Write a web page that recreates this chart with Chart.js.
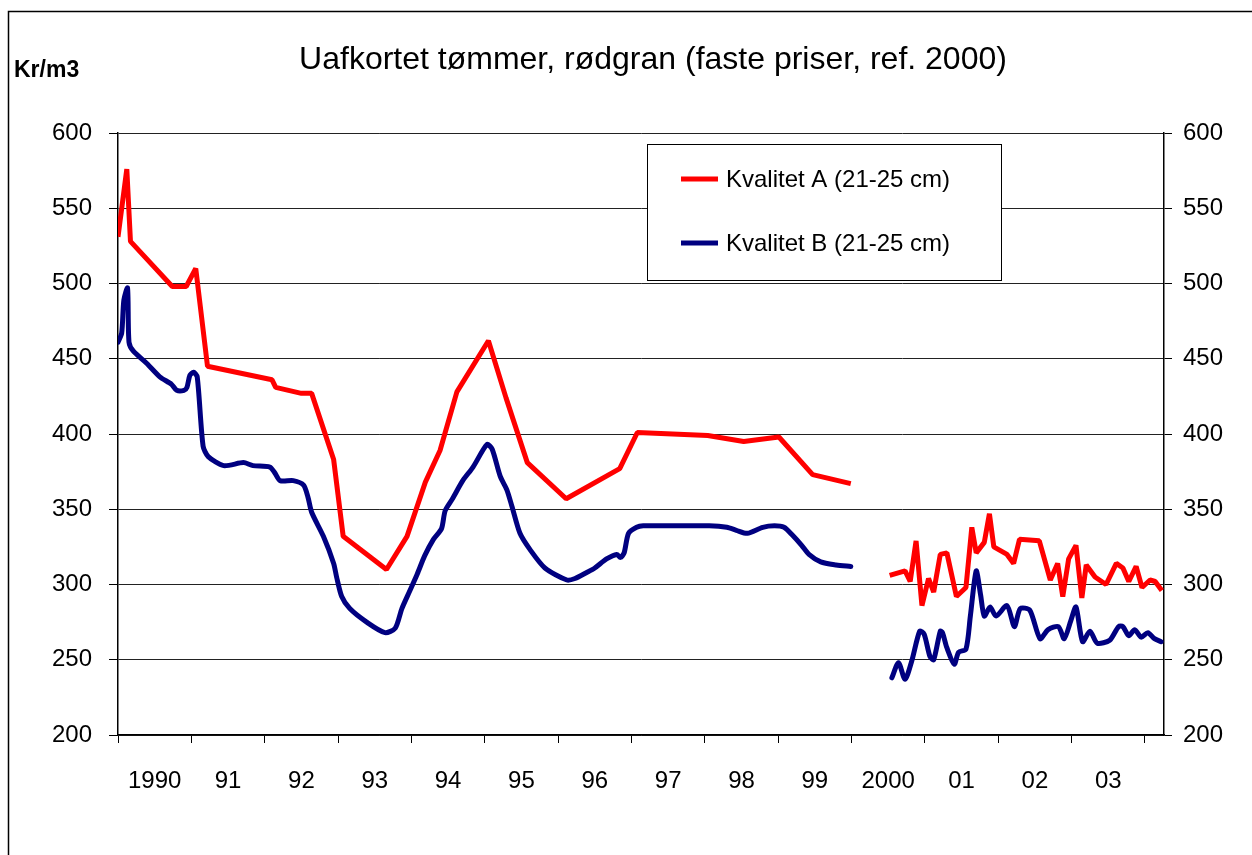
<!DOCTYPE html>
<html>
<head>
<meta charset="utf-8">
<title>Uafkortet tømmer, rødgran</title>
<script src="https://cdn.jsdelivr.net/npm/chart.js@4/dist/chart.umd.min.js"></script>
<style>
  body { margin: 0; background: #fff; }
  #wrap { width: 1252px; height: 855px; }
</style>
</head>
<body>
<div id="wrap"><canvas id="priceChart" width="1252" height="855"></canvas></div>
<script>
// x = year (decimal)
const yearsA = [1990.00, 1990.12, 1990.17, 1990.74, 1990.93, 1991.06, 1991.22, 1992.10, 1992.15, 1992.50,
    1992.64, 1992.94, 1993.07, 1993.66, 1993.94, 1994.19, 1994.39, 1994.62, 1995.05, 1995.29,
    1995.58, 1996.11, 1996.84, 1997.08, 1998.04, 1998.53, 1999.01, 1999.47, 1999.99,
    2000.25,
    2000.52, 2000.73, 2000.80, 2000.88, 2000.96, 2001.05, 2001.12, 2001.21, 2001.30, 2001.43,
    2001.56, 2001.64, 2001.70, 2001.81, 2001.88, 2001.94, 2002.12, 2002.21, 2002.29, 2002.56,
    2002.71, 2002.81, 2002.88, 2002.96, 2003.06, 2003.14, 2003.20, 2003.32, 2003.47, 2003.61,
    2003.70, 2003.78, 2003.88, 2003.96, 2004.07, 2004.14, 2004.23];
const kvalitetA = [531, 576, 528, 498, 498, 510, 445, 436, 431, 427,
    427, 383, 332, 310, 332, 368, 389, 428, 462, 424,
    381, 357, 377, 401, 399, 395, 398, 373, 367,
    null,
    306, 309, 302, 329, 286, 304, 295, 320, 321, 292,
    298, 338, 321, 328, 347, 325, 320, 314, 330, 329,
    303, 314, 292, 317, 326, 291, 313, 305, 300, 314,
    311, 302, 312, 298, 303, 302, 296];

const yearsB = [1990.00, 1990.05, 1990.08, 1990.13, 1990.15, 1990.21, 1990.39, 1990.57, 1990.73, 1990.80,
    1990.90, 1990.94, 1990.98, 1991.03, 1991.08, 1991.16, 1991.23, 1991.44, 1991.71, 1991.84,
    1992.07, 1992.14, 1992.21, 1992.39, 1992.53, 1992.59, 1992.64, 1992.80, 1992.94, 1992.98,
    1993.05, 1993.16, 1993.39, 1993.64, 1993.78, 1993.87, 1993.98, 1994.08, 1994.18, 1994.30,
    1994.41, 1994.46, 1994.56, 1994.70, 1994.84, 1995.03, 1995.10, 1995.21, 1995.30, 1995.37,
    1995.48, 1995.62, 1995.82, 1996.12, 1996.23, 1996.39, 1996.50, 1996.66, 1996.80, 1996.85,
    1996.90, 1996.96, 1997.07, 1997.16, 1997.52, 1998.06, 1998.30, 1998.43, 1998.58, 1998.79,
    1998.95, 1999.08, 1999.19, 1999.32, 1999.42, 1999.58, 1999.79, 1999.99,
    2000.25,
    2000.55, 2000.64, 2000.73, 2000.82, 2000.93, 2000.99, 2001.07, 2001.12, 2001.21, 2001.24,
    2001.30, 2001.40, 2001.46, 2001.56, 2001.62, 2001.70, 2001.76, 2001.81, 2001.89, 2001.97,
    2002.12, 2002.22, 2002.30, 2002.43, 2002.57, 2002.68, 2002.82, 2002.90, 2002.99, 2003.06,
    2003.15, 2003.25, 2003.35, 2003.52, 2003.64, 2003.70, 2003.78, 2003.86, 2003.95, 2004.04,
    2004.13, 2004.22];
const kvalitetB = [461, 467, 489, 497, 461, 455, 447, 438, 433, 429,
    429, 431, 439, 441, 438, 392, 385, 379, 381, 379,
    378, 374, 369, 369, 366, 358, 348, 332, 314, 305,
    292, 284, 275, 268, 271, 284, 296, 307, 319, 330,
    337, 349, 357, 369, 378, 393, 390, 372, 363, 352,
    334, 323, 311, 303, 304, 308, 311, 317, 320, 318,
    321, 334, 338, 339, 339, 339, 338, 336, 334, 338,
    339, 338, 333, 326, 320, 315, 313, 312,
    null,
    238, 248, 237, 249, 269, 267, 252, 250, 269, 268,
    258, 247, 255, 257, 279, 309, 293, 279, 285, 279,
    286, 272, 284, 283, 264, 270, 272, 264, 276, 285,
    262, 269, 261, 263, 272, 272, 266, 270, 265, 268,
    264, 262];

const yearLabels = ["1990", "91", "92", "93", "94", "95", "96", "97", "98", "99", "2000", "01", "02", "03", ""];
const yTicks = [200, 250, 300, 350, 400, 450, 500, 550, 600];

const FONT = "'Liberation Sans', Arial, sans-serif";

function toPoints(xs, ys) {
    return xs.map((x, i) => ({ x: x, y: ys[i] }));
}

// title, unit label, frame and a boxed legend inside the plot
const decorations = {
    id: "decorations",
    beforeDraw(chart) {
        const ctx = chart.ctx;
        ctx.save();
        ctx.fillStyle = "#fff";
        ctx.fillRect(0, 0, chart.width, chart.height);
        ctx.strokeStyle = "#000";
        ctx.lineWidth = 1.5;
        ctx.strokeRect(8.5, 11.5, 1400, 1000);
        ctx.restore();
    },
    afterDraw(chart) {
        const ctx = chart.ctx;
        ctx.save();
        ctx.fillStyle = "#000";
        ctx.textBaseline = "middle";
        ctx.textAlign = "center";
        ctx.font = "32px " + FONT;
        ctx.fillText("Uafkortet tømmer, rødgran (faste priser, ref. 2000)", 653, 60);
        ctx.textAlign = "left";
        ctx.font = "bold 23px " + FONT;
        ctx.fillText("Kr/m3", 14, 71);

        // legend box
        const bx = 647, by = 144, bw = 354, bh = 136;
        ctx.fillStyle = "#fff";
        ctx.fillRect(bx, by, bw, bh);
        ctx.strokeStyle = "#000";
        ctx.lineWidth = 1;
        ctx.strokeRect(bx + 0.5, by + 0.5, bw, bh);
        ctx.font = "24px " + FONT;
        chart.data.datasets.forEach((ds, i) => {
            const y = 179 + i * 64;
            ctx.strokeStyle = ds.borderColor;
            ctx.lineWidth = 5;
            ctx.beginPath();
            ctx.moveTo(681, y);
            ctx.lineTo(718, y);
            ctx.stroke();
            ctx.fillStyle = "#000";
            ctx.fillText(ds.label, 726, y + 1);
        });
        ctx.restore();
    }
};

new Chart(document.getElementById("priceChart"), {
    type: "line",
    data: {
        datasets: [{
            label: "Kvalitet A (21-25 cm)",
            data: toPoints(yearsA, kvalitetA),
            borderColor: "#ff0000",
            borderWidth: 5,
            borderJoinStyle: "bevel",
            pointRadius: 0,
            tension: 0,
            yAxisID: "y"
        }, {
            label: "Kvalitet B (21-25 cm)",
            data: toPoints(yearsB, kvalitetB),
            borderColor: "#000080",
            borderWidth: 5,
            borderJoinStyle: "round",
            borderCapStyle: "round",
            pointRadius: 0,
            tension: 0.25,
            yAxisID: "y"
        }]
    },
    options: {
        responsive: false,
        animation: false,
        layout: { padding: { top: 133, left: 0, right: 0, bottom: 0 } },
        plugins: {
            legend: { display: false },
            title: { display: false },
            tooltip: { enabled: false }
        },
        scales: {
            x: {
                type: "linear",
                min: 1990,
                max: 2004.26,
                afterBuildTicks: (scale) => {
                    scale.ticks = yearLabels.map((_, i) => ({ value: 1990 + i }));
                },
                afterFit: (scale) => { scale.height = 120; },
                ticks: {
                    autoSkip: false,
                    maxRotation: 0,
                    labelOffset: 36.7,
                    padding: 24,
                    color: "#000",
                    font: { family: FONT, size: 24 },
                    callback: (value, index) => yearLabels[index]
                },
                grid: { drawOnChartArea: false, tickLength: 8, tickColor: "#000" },
                border: { color: "#000", width: 1.5 }
            },
            y: {
                position: "left",
                min: 200,
                max: 600,
                afterBuildTicks: (scale) => {
                    scale.ticks = yTicks.map(v => ({ value: v }));
                },
                afterFit: (scale) => { scale.width = 118; },
                ticks: {
                    padding: 17,
                    color: "#000",
                    font: { family: FONT, size: 24 }
                },
                grid: { color: "#222", lineWidth: 1, tickLength: 9, tickColor: "#000" },
                border: { color: "#000", width: 1.5 }
            },
            y2: {
                position: "right",
                min: 200,
                max: 600,
                afterBuildTicks: (scale) => {
                    scale.ticks = yTicks.map(v => ({ value: v }));
                },
                afterFit: (scale) => { scale.width = 88; },
                ticks: {
                    padding: 11,
                    color: "#000",
                    font: { family: FONT, size: 24 }
                },
                grid: { drawOnChartArea: false, tickLength: 8, tickColor: "#000" },
                border: { color: "#000", width: 1.5 }
            }
        }
    },
    plugins: [decorations]
});
</script>
</body>
</html>
